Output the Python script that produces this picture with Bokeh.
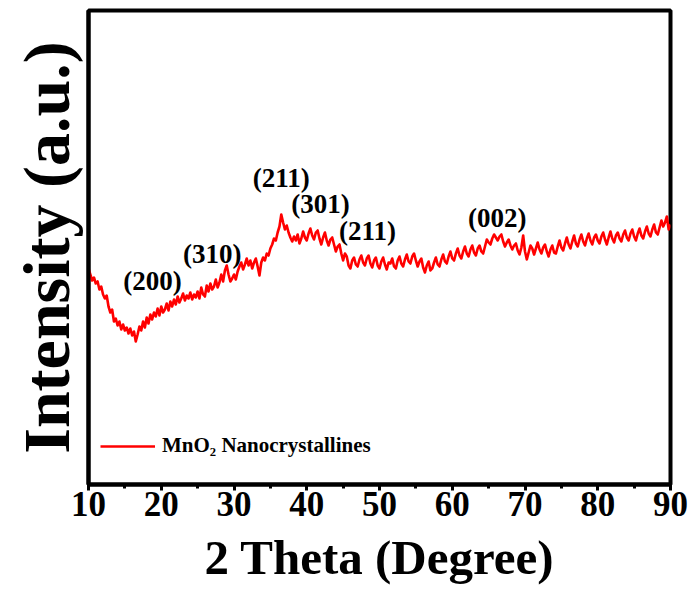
from bokeh.plotting import figure
from bokeh.models import Range1d, FixedTicker, Legend, LegendItem
from bokeh.core.properties import value
from bokeh.embed import file_html
from bokeh.resources import INLINE

# ---- data ----
two_theta = [10.0 + 0.25 * i for i in range(321)]
intensity = [
    # 10.00 - 14.75
    216, 210, 204, 207, 201, 203, 195, 198, 190, 186,
    189, 178, 172, 175, 163, 166, 159, 163, 155, 160,
    # 15.00 - 19.75
    154, 157, 151, 156, 149, 153, 143, 150, 158, 154,
    163, 157, 167, 161, 170, 165, 172, 168, 176, 169,
    # 20.00 - 24.75
    178, 172, 175, 181, 174, 183, 178, 185, 180, 188,
    182, 186, 191, 184, 189, 186, 192, 185, 190, 187,
    # 25.00 - 29.75
    193, 186, 197, 190, 188, 199, 193, 201, 195, 198,
    205, 197, 202, 210, 203, 214, 219, 210, 203, 206,
    # 30.00 - 34.75
    210, 205, 213, 218, 222, 215, 220, 226, 219, 224,
    216, 222, 226, 218, 209, 222, 227, 224, 231, 229,
    # 35.00 - 39.75
    236, 240, 246, 244, 252, 258, 270, 262, 255, 259,
    252, 247, 243, 248, 244, 250, 241, 246, 253, 247,
    # 40.00 - 44.75
    244, 251, 256, 249, 245, 252, 254, 246, 240, 247,
    252, 244, 239, 245, 247, 240, 233, 238, 240, 231,
    # 45.00 - 49.75
    224, 231, 228, 219, 216, 224, 227, 220, 218, 225,
    229, 222, 219, 226, 229, 221, 217, 224, 227, 219,
    # 50.00 - 54.75
    216, 223, 227, 220, 215, 222, 221, 226, 218, 216,
    224, 228, 221, 218, 225, 230, 223, 221, 228, 231,
    # 55.00 - 59.75
    224, 218, 223, 226, 217, 212, 219, 223, 214, 216,
    222, 227, 220, 218, 225, 230, 223, 221, 228, 233,
    # 60.00 - 64.75
    226, 224, 231, 236, 229, 226, 233, 238, 231, 228,
    235, 239, 232, 229, 236, 239, 233, 231, 238, 245,
    # 65.00 - 69.75
    242, 240, 246, 250, 247, 244, 248, 250, 243, 238,
    242, 245, 239, 235, 239, 241, 234, 230, 237, 249,
    # 70.00 - 74.75
    233, 225, 232, 239, 236, 230, 236, 242, 235, 231,
    237, 240, 233, 228, 235, 239, 232, 231, 238, 244,
    # 75.00 - 79.75
    237, 234, 241, 247, 240, 236, 243, 249, 241, 238,
    245, 250, 243, 239, 246, 251, 244, 240, 247, 250,
    # 80.00 - 84.75
    244, 241, 248, 252, 245, 240, 247, 253, 246, 242,
    249, 252, 246, 243, 250, 254, 247, 244, 251, 255,
    # 85.00 - 89.75
    248, 244, 251, 256, 249, 246, 253, 258, 251, 248,
    255, 260, 252, 250, 257, 264, 258, 262, 268, 255,
    # 90.00
    260,
]
peak_labels = ["(200)", "(310)", "(211)", "(301)", "(211)", "(002)"]
peak_x = [18.8, 27.0, 36.5, 41.9, 48.35, 66.2]
peak_y = [204, 231, 307, 281, 254, 267]
x_ticks = [10, 20, 30, 40, 50, 60, 70, 80, 90]
x_minor = [15, 25, 35, 45, 55, 65, 75, 85]
series_name = "MnO\u2082 Nanocrystallines"
x_title = "2 Theta (Degree)"
y_title = "Intensity (a.u.)"

FONT = "Liberation Serif"

p = figure(width=694, height=590, output_backend="svg", toolbar_location=None,
           x_range=Range1d(10, 90), y_range=Range1d(0, 474),
           min_border_left=88, min_border_right=24, min_border_top=10,
           min_border_bottom=106)
p.background_fill_color = "white"
p.border_fill_color = "white"
p.xgrid.visible = False
p.ygrid.visible = False
p.outline_line_color = "black"
p.outline_line_width = 4
p.outline_line_alpha = 1

line = p.line(two_theta, intensity, line_color="#ff0000", line_width=2.6,
              line_join="round")

p.text(x=peak_x, y=peak_y, text=peak_labels, text_font=value(FONT),
       text_font_style="bold", text_font_size="27px", text_align="center",
       text_baseline="middle", text_color="black")

# x axis
xa = p.xaxis[0]
xa.ticker = FixedTicker(ticks=x_ticks, minor_ticks=x_minor)
xa.axis_line_width = 4
xa.axis_line_color = "black"
xa.major_tick_in = 0
xa.major_tick_out = 6
xa.major_tick_line_width = 3
xa.minor_tick_in = 0
xa.minor_tick_out = 4
xa.minor_tick_line_width = 3
xa.major_label_text_font = FONT
xa.major_label_text_font_style = "bold"
xa.major_label_text_font_size = "35px"
xa.major_label_text_color = "black"
xa.major_label_standoff = 1
xa.axis_label = x_title
xa.axis_label_text_font = FONT
xa.axis_label_text_font_style = "bold"
xa.axis_label_text_font_size = "49px"
xa.axis_label_text_color = "black"
xa.axis_label_standoff = 11

# y axis
ya = p.yaxis[0]
ya.ticker = FixedTicker(ticks=[])
ya.major_tick_out = 0
ya.major_tick_in = 0
ya.minor_tick_out = 0
ya.minor_tick_in = 0
ya.major_label_standoff = 0
ya.major_label_text_font_size = "0px"
ya.axis_line_width = 4
ya.axis_line_color = "black"
ya.axis_label = y_title
ya.axis_label_text_font = FONT
ya.axis_label_text_font_style = "bold"
ya.axis_label_text_font_size = "66px"
ya.axis_label_text_color = "black"
ya.axis_label_standoff = 6

legend = Legend(items=[LegendItem(label=series_name, renderers=[line])],
                location=(12, 26), orientation="vertical")
legend.border_line_color = None
legend.background_fill_alpha = 0
legend.label_text_font = FONT
legend.label_text_font_style = "bold"
legend.label_text_font_size = "21px"
legend.label_text_color = "black"
legend.glyph_width = 55
legend.label_standoff = 7
legend.padding = 0
legend.margin = 0
p.add_layout(legend, "center")

open("out.html", "w").write(file_html(p, INLINE))
